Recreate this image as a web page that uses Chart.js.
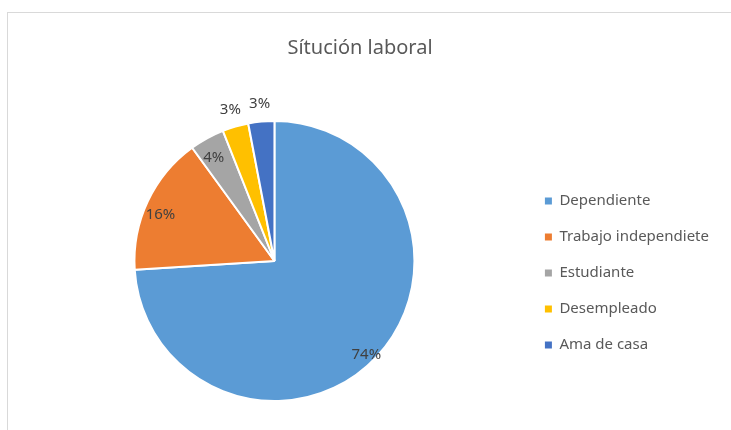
<!DOCTYPE html>
<html>
<head>
<meta charset="utf-8">
<script src="https://cdn.jsdelivr.net/npm/chart.js@4/dist/chart.umd.min.js"></script>
<style>
  html, body { margin: 0; padding: 0; background: #fff; }
  #wrap { position: relative; width: 731px; height: 430px; overflow: hidden; }
  #frame { position: absolute; left: 7px; top: 12px; width: 760px; height: 460px; border: 1px solid #d9d9d9; box-sizing: border-box; }
  canvas { position: absolute; left: 0; top: 0; }
</style>
</head>
<body>
<div id="wrap">
  <div id="frame"></div>
  <canvas id="pie" width="731" height="430"></canvas>
</div>
<script>
// situación laboral de los encuestados (porcentaje)
const categorias = ["Dependiente", "Trabajo independiete", "Estudiante", "Desempleado", "Ama de casa"];
const porcentajes = [74, 16, 4, 3, 3];
const colores = ["#5b9bd5", "#ed7d31", "#a5a5a5", "#ffc000", "#4472c4"];

// etiquetas de porcentaje: dentro del borde las grandes, fuera las pequeñas
const etiquetas = {
  id: "etiquetas",
  afterDatasetsDraw(chart) {
    const ctx = chart.ctx;
    const total = porcentajes.reduce((a, b) => a + b, 0);
    ctx.save();
    ctx.font = "15px 'Noto Sans'";
    ctx.fillStyle = "#404040";
    ctx.textAlign = "center";
    ctx.textBaseline = "middle";
    chart.getDatasetMeta(0).data.forEach((arc, i) => {
      const p = arc.getProps(["x", "y", "startAngle", "endAngle", "outerRadius"], true);
      const mid = (p.startAngle + p.endAngle) / 2;
      const fuera = porcentajes[i] < 4;
      const d = fuera ? p.outerRadius + 18 : p.outerRadius - 14;
      const txt = Math.round(porcentajes[i] / total * 100) + "%";
      ctx.fillText(txt, p.x + Math.cos(mid) * d, p.y + Math.sin(mid) * d + (fuera ? 0 : 7));
    });
    ctx.restore();
  }
};

// leyenda un poco más abajo que el centro del pastel, título centrado en el marco
const ajustes = {
  id: "ajustes",
  afterLayout(chart) {
    chart.legend.top += 24;
    chart.titleBlock.left -= 12;
    chart.titleBlock.right -= 12;
  }
};

new Chart(document.getElementById("pie"), {
  type: "pie",
  data: {
    labels: categorias,
    datasets: [{
      data: porcentajes,
      backgroundColor: colores,
      borderColor: "#ffffff",
      borderWidth: 2
    }]
  },
  options: {
    responsive: false,
    animation: false,
    layout: { padding: { left: 25, right: 12, bottom: 28 } },
    plugins: {
      title: {
        display: true,
        text: "Sítución laboral",
        color: "#595959",
        font: { family: "'Noto Sans'", size: 20, weight: "normal" },
        padding: { top: 36, bottom: 60 }
      },
      legend: {
        position: "right",
        fullSize: false,
        labels: {
          color: "#595959",
          font: { family: "'Noto Sans'", size: 15 },
          boxWidth: 7,
          boxHeight: 7,
          padding: 21,
          generateLabels(chart) {
            return Chart.overrides.pie.plugins.legend.labels.generateLabels(chart)
              .map(l => Object.assign(l, { lineWidth: 0, strokeStyle: l.fillStyle }));
          }
        }
      },
      tooltip: { enabled: false }
    }
  },
  plugins: [etiquetas, ajustes]
});
</script>
</body>
</html>
